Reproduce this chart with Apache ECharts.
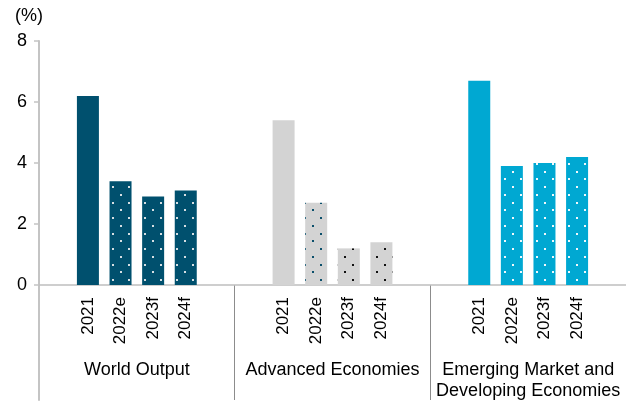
<!DOCTYPE html>
<html>
<head>
<meta charset="utf-8">
<script src="https://cdn.jsdelivr.net/npm/echarts@6/dist/echarts.min.js"></script>
<style>
html,body{margin:0;padding:0;background:#fff;}
#chart{width:626px;height:401px;}
</style>
</head>
<body>
<div id="chart"></div>
<script>
// ---- data ----
var groups = ['World Output', 'Advanced Economies', 'Emerging Market and\nDeveloping Economies'];
var periods = ['2021', '2022e', '2023f', '2024f'];
var worldValues = [6.2, 3.4, 2.9, 3.1];
var advancedValues = [5.4, 2.7, 1.2, 1.4];
var emergingValues = [6.7, 3.9, 4.0, 4.2];
var yTicks = [0, 2, 4, 6, 8];

// ---- styles ----
var FONT = 'Liberation Sans, Arial, sans-serif';
function dotPattern(bg, dot) {
  var c = document.createElement('canvas');
  c.width = 16; c.height = 31;
  var ctx = c.getContext('2d');
  ctx.fillStyle = bg; ctx.fillRect(0, 0, 16, 31);
  ctx.fillStyle = dot;
  var rows = [0, 8, 16, 23];
  rows.forEach(function (y, i) {
    var x = (i % 2 === 0) ? 0 : 8;
    ctx.fillRect(x, y, 2, 2);
  });
  return { image: c, repeat: 'repeat' };
}
var WORLD = '#00506E', ADV = '#D3D3D3', EM = '#00A8D2';
var styles = [
  [WORLD, dotPattern(WORLD, '#D6DEE2'), dotPattern(WORLD, '#D6DEE2'), dotPattern(WORLD, '#D6DEE2')],
  [ADV, dotPattern(ADV, '#0A4F6B'), dotPattern(ADV, '#111111'), dotPattern(ADV, '#111111')],
  [EM, dotPattern(EM, '#F2F8FB'), dotPattern(EM, '#F2F8FB'), dotPattern(EM, '#F2F8FB')]
];

var allValues = [worldValues, advancedValues, emergingValues];
var categories = [];
var barData = [];
allValues.forEach(function (vals, g) {
  categories.push(''); barData.push(null);
  vals.forEach(function (v, i) {
    categories.push(periods[i]);
    barData.push({ value: v, itemStyle: { color: styles[g][i] } });
  });
  categories.push(''); barData.push(null);
});

var chart = echarts.init(document.getElementById('chart'), null, { renderer: 'canvas' });
chart.setOption({
  animation: false,
  textStyle: { fontFamily: FONT },
  graphic: [{
    type: 'text', left: 15, top: 7,
    style: { text: '(%)', font: '18px ' + FONT, fill: '#000' }
  }],
  grid: [
    { left: 39, right: 0, top: 41, height: 244 },
    { left: 39, right: 0, top: 285, bottom: 0 }
  ],
  xAxis: [{
    type: 'category', gridIndex: 0, data: categories,
    axisLine: { lineStyle: { color: '#BFBFBF', width: 1.5 } },
    axisTick: { show: false },
    axisLabel: { interval: 0, rotate: 90, margin: 12, fontSize: 17, color: '#000', fontFamily: FONT }
  }, {
    type: 'category', gridIndex: 1, data: groups, position: 'top',
    axisLine: { show: false },
    axisTick: { show: false },
    splitLine: { show: true, interval: 0, showMinLine: false, showMaxLine: false,
      lineStyle: { color: '#8C8C8C', width: 1 } },
    axisLabel: { inside: true, interval: 0, margin: 75, fontSize: 18, lineHeight: 21,
      color: '#000', fontFamily: FONT, verticalAlign: 'top' }
  }],
  yAxis: [{
    type: 'value', gridIndex: 0, min: 0, max: 8, interval: 2,
    axisLine: { show: true, lineStyle: { color: '#C4C4C4', width: 2 } },
    axisTick: { show: true, length: 5, lineStyle: { color: '#C4C4C4', width: 1.5 } },
    splitLine: { show: false },
    axisLabel: { fontSize: 18, color: '#000', margin: 12, fontFamily: FONT,
      formatter: function (v) { return yTicks.indexOf(v) >= 0 ? String(v) : ''; } }
  }, {
    type: 'value', gridIndex: 1,
    axisLine: { show: true, lineStyle: { color: '#C4C4C4', width: 2 } },
    axisTick: { show: false }, axisLabel: { show: false }, splitLine: { show: false }
  }],
  series: [{
    type: 'bar', xAxisIndex: 0, yAxisIndex: 0, barWidth: 22,
    data: barData
  }]
});
</script>
</body>
</html>
